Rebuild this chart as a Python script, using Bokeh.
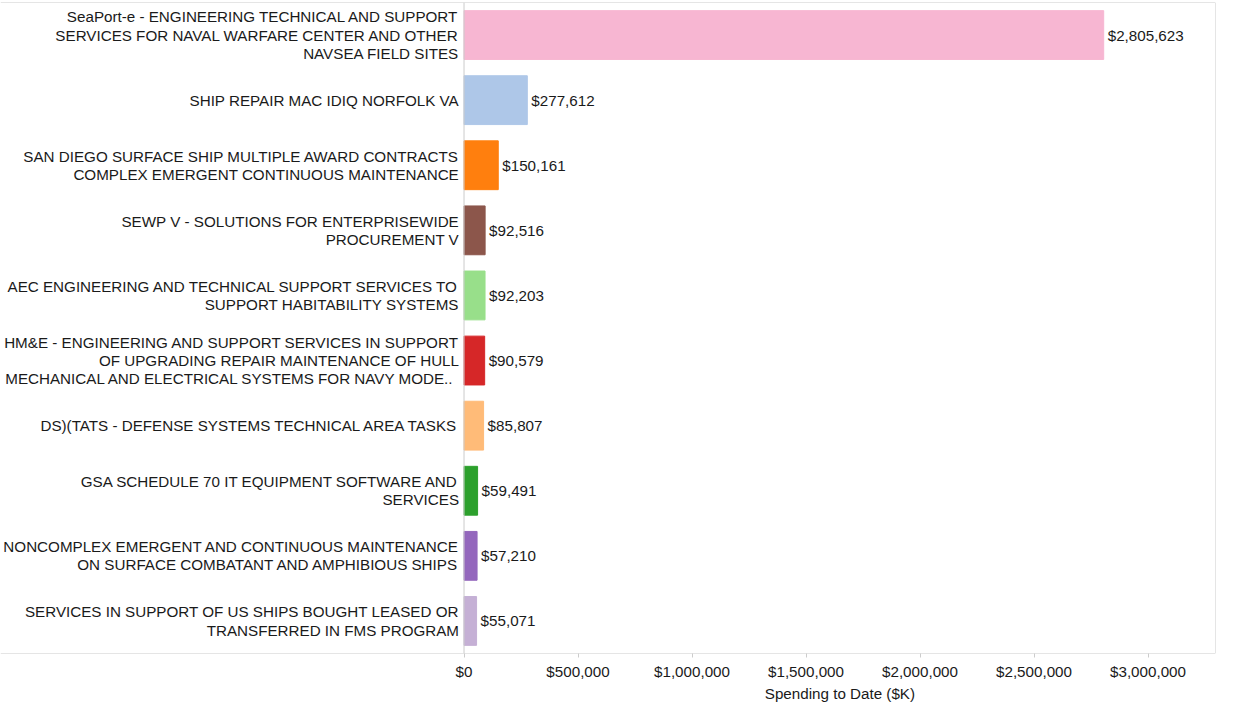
from bokeh.plotting import figure
from bokeh.models import (ColumnDataSource, FactorRange, Range1d, FixedTicker,
                          NumeralTickFormatter, Span, Title)
from bokeh.embed import file_html
from bokeh.resources import INLINE
from bokeh.core.properties import value

categories = [
    "SeaPort-e - ENGINEERING TECHNICAL AND SUPPORT\nSERVICES FOR NAVAL WARFARE CENTER AND OTHER\nNAVSEA FIELD SITES",
    "SHIP REPAIR MAC IDIQ NORFOLK VA",
    "SAN DIEGO SURFACE SHIP MULTIPLE AWARD CONTRACTS\nCOMPLEX EMERGENT CONTINUOUS MAINTENANCE",
    "SEWP V - SOLUTIONS FOR ENTERPRISEWIDE\nPROCUREMENT V",
    "AEC ENGINEERING AND TECHNICAL SUPPORT SERVICES TO\nSUPPORT HABITABILITY SYSTEMS",
    "HM&E - ENGINEERING AND SUPPORT SERVICES IN SUPPORT\nOF UPGRADING REPAIR MAINTENANCE OF HULL\nMECHANICAL AND ELECTRICAL  SYSTEMS FOR NAVY MODE..",
    "DS)(TATS - DEFENSE SYSTEMS TECHNICAL AREA TASKS",
    "GSA SCHEDULE 70 IT EQUIPMENT SOFTWARE AND\nSERVICES",
    "NONCOMPLEX EMERGENT AND CONTINUOUS MAINTENANCE\nON SURFACE COMBATANT AND AMPHIBIOUS SHIPS",
    "SERVICES IN SUPPORT OF US SHIPS BOUGHT LEASED OR\nTRANSFERRED IN FMS PROGRAM",
]
spending = [2805623, 277612, 150161, 92516, 92203, 90579, 85807, 59491, 57210, 55071]
bar_colors = ["#F7B6D2", "#AEC7E8", "#FF7F0E", "#8C564B", "#98DF8A",
              "#D62728", "#FFBB78", "#2CA02C", "#9467BD", "#C5B0D5"]
tick_values = [0, 500000, 1000000, 1500000, 2000000, 2500000, 3000000]
axis_title = "Spending to Date ($K)"

FONT = "Liberation Sans"
FS = "15.2px"
TXT = "#1a1a1a"
LINE = "#cccccc"

source = ColumnDataSource(dict(
    cat=categories,
    val=spending,
    color=bar_colors,
    label=["${:,}".format(v) for v in spending],
    zero=[0] * len(spending),
))

X_START, X_END = -2033000, 3296000
FRAME_W = 1215

p = figure(
    frame_width=FRAME_W, frame_height=651,
    y_range=FactorRange(factors=list(reversed(categories)), range_padding=0),
    x_range=Range1d(X_START, X_END),
    output_backend="svg", toolbar_location=None,
    min_border_left=0, min_border_right=2, min_border_top=2, min_border_bottom=0,
)
p.outline_line_color = None
p.grid.visible = False
p.yaxis.visible = False

p.hbar(y="cat", right="val", left=0, height=0.75, color="color", source=source)

p.text(x="val", y="cat", text="label", source=source, x_offset=4,
       text_align="left", text_baseline="middle",
       text_font=value(FONT), text_font_size=FS, text_color=TXT)

p.text(x="zero", y="cat", text="cat", source=source, x_offset=-5,
       text_align="right", text_baseline="middle", text_line_height=1.07,
       text_font=value(FONT), text_font_size=FS, text_color=TXT)

xa = p.xaxis[0]
xa.ticker = FixedTicker(ticks=tick_values)
xa.formatter = NumeralTickFormatter(format="$0,0")
xa.axis_line_color = None
xa.major_tick_line_color = LINE
xa.major_tick_out = 4
xa.major_tick_in = 0
xa.minor_tick_line_color = None
xa.major_label_text_font = FONT
xa.major_label_text_font_size = "15.2px"
xa.major_label_text_color = TXT
xa.major_label_standoff = 5

# axis title centred over the value part of the axis (0 .. X_END)
zero_px = FRAME_W * (0 - X_START) / (X_END - X_START)
title_w = 150
title_left = (zero_px + FRAME_W) / 2 - title_w / 2
p.add_layout(Title(text=axis_title, align="left", offset=title_left,
                   text_font=FONT, text_font_size="15.2px", text_font_style="normal",
                   text_color=TXT, standoff=1), "below")

n = len(categories)
p.add_layout(Span(location=n, dimension="width", line_color=LINE, line_width=1))
p.add_layout(Span(location=0, dimension="width", line_color=LINE, line_width=1))
p.add_layout(Span(location=0, dimension="height", line_color=LINE, line_width=1))
p.add_layout(Span(location=X_END, dimension="height", line_color=LINE, line_width=1))

open("out.html", "w").write(file_html(p, INLINE))
